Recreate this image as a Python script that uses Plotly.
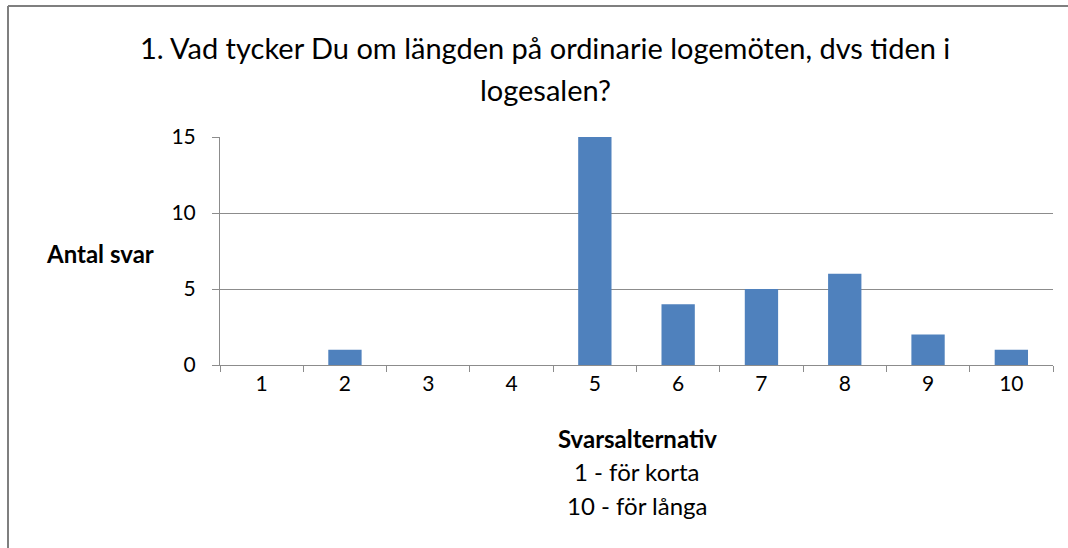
import plotly.graph_objects as go

# answer options 1..10 and number of answers
alternativ = ["1", "2", "3", "4", "5", "6", "7", "8", "9", "10"]
antal_svar = [0, 1, 0, 0, 15, 4, 5, 6, 2, 1]
y_ticks = [0, 5, 10, 15]

font = "Lato"
bar_color = "#4F81BD"
grid = "#8C8C8C"

fig = go.Figure()

fig.add_trace(go.Bar(
    x=alternativ,
    y=antal_svar,
    marker=dict(color=bar_color, line=dict(width=0)),
    showlegend=False,
))

W, H = 1068, 548
L, R, T, B = 220, 15, 137, 183

fig.update_layout(
    width=W, height=H,
    margin=dict(l=L, r=R, t=T, b=B),
    paper_bgcolor="white",
    plot_bgcolor="white",
    bargap=0.6,
    font=dict(family=font, color="#000000"),
    xaxis=dict(
        type="category",
        showline=True, linecolor=grid, linewidth=1,
        ticks="outside", tickson="boundaries", ticklen=6, tickcolor=grid,
        tickfont=dict(size=21, family=font),
        showgrid=False,
    ),
    yaxis=dict(
        range=[0, 15],
        tickvals=y_ticks,
        showline=True, linecolor=grid, linewidth=1,
        ticks="outside", ticklen=7, tickcolor=grid,
        tickfont=dict(size=21, family=font),
        ticklabelstandoff=12,
        showgrid=True, gridcolor=grid, gridwidth=1,
        zeroline=False,
    ),
)

def px(x, y):
    # pixel coordinates -> paper coordinates
    pw, ph = W - L - R, H - T - B
    return (x - L) / pw, (H - B - y) / ph

texts = [
    ("1. Vad tycker Du om längden på ordinarie logemöten, dvs tiden i", 545, 47, 29, False),
    ("logesalen?", 545, 90, 29, False),
    ("Antal svar", 100, 253, 24, True),
    ("Svarsalternativ", 637, 438, 24, True),
    ("1 - för korta", 637, 471, 24, False),
    ("10 - för långa", 637, 505, 24, False),
]
for t, x, y, s, bold in texts:
    xp, yp = px(x, y)
    fig.add_annotation(
        text=f"<b>{t}</b>" if bold else t,
        x=xp, y=yp, xref="paper", yref="paper",
        xanchor="center", yanchor="middle", showarrow=False,
        font=dict(size=s, family=font, color="#000000"),
    )

# chart frame: only top and left edges visible
x0, y0 = px(8, 6)
x1, _ = px(1068, 6)
_, y1 = px(8, 548)
fig.add_shape(type="line", xref="paper", yref="paper", x0=x0, y0=y0, x1=x1, y1=y0,
              line=dict(color="#7F7F7F", width=2))
fig.add_shape(type="line", xref="paper", yref="paper", x0=x0, y0=y0, x1=x0, y1=y1,
              line=dict(color="#7F7F7F", width=2))

fig.write_html("out.html", config={"displayModeBar": False},
               post_script="document.body.style.margin='0';")
